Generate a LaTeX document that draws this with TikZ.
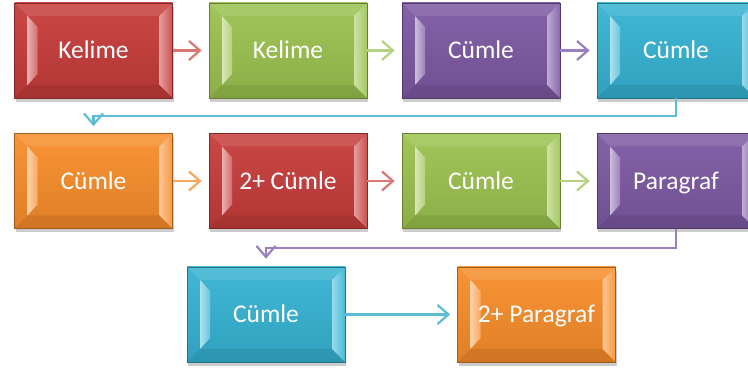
\documentclass[tikz,border=0pt]{standalone}
\usepackage{fontspec}
\setmainfont{Carlito}
\usetikzlibrary{arrows.meta,calc,shadows}
\definecolor{cred}{HTML}{C63C3A}
\definecolor{cgreen}{HTML}{9BC24F}
\definecolor{cpurple}{HTML}{7C58A2}
\definecolor{ccyan}{HTML}{35B3D3}
\definecolor{corange}{HTML}{F88D2A}
\definecolor{ared}{HTML}{DA7674}
\definecolor{agreen}{HTML}{B4D27F}
\definecolor{apurple}{HTML}{9A80BE}
\definecolor{acyan}{HTML}{5DBCD6}
\definecolor{aorange}{HTML}{F9A65A}
\tikzset{
  bx/.style={draw=#1!65!black, line width=0.7pt,
    minimum width=158pt, minimum height=95pt, inner sep=0pt,
    top color=#1!94!white, bottom color=#1!90!black,
    text=white, font=\fontsize{25.5}{30}\selectfont,
    text height=16.5pt, text depth=0pt,
    general shadow={fill=black, opacity=0.2, shadow yshift=-4pt, shadow xshift=1pt},
    path picture={
      \fill[white,opacity=0.10] (path picture bounding box.north west) -- (path picture bounding box.north east)
        -- ([shift={(-13pt,-13pt)}]path picture bounding box.north east)
        -- ([shift={(13pt,-13pt)}]path picture bounding box.north west) -- cycle;
      \fill[black,opacity=0.07] (path picture bounding box.south west) -- (path picture bounding box.south east)
        -- ([shift={(-13pt,13pt)}]path picture bounding box.south east)
        -- ([shift={(13pt,13pt)}]path picture bounding box.south west) -- cycle;
      \shade[left color=#1!40!white, right color=#1!75!white]
        ([shift={(13pt,-13pt)}]path picture bounding box.north west)
        -- ([shift={(23pt,-24pt)}]path picture bounding box.north west)
        -- ([shift={(23pt,24pt)}]path picture bounding box.south west)
        -- ([shift={(13pt,13pt)}]path picture bounding box.south west) -- cycle;
      \shade[left color=#1!50!white, right color=#1!90!white]
        ([shift={(-13pt,-13pt)}]path picture bounding box.north east)
        -- (path picture bounding box.north east)
        -- (path picture bounding box.south east)
        -- ([shift={(-13pt,13pt)}]path picture bounding box.south east) -- cycle;
    }},
  conn/.style={line width=2.2pt, -{Straight Barb[length=11pt,width=19pt]}}
}
\begin{document}
\begin{tikzpicture}[x=1pt,y=-1pt]
\useasboundingbox (0,0) rectangle (748,374);
\clip (0,0) rectangle (748,374);
% row 1
\node[bx=cred]    (b1) at (93.5,50.5) {Kelime};
\node[bx=cgreen]  (b2) at (288,50.5) {Kelime};
\node[bx=cpurple] (b3) at (481,50.5) {Cümle};
\node[bx=ccyan]   (b4) at (676,50.5) {Cümle};
% row 2
\node[bx=corange] (b5) at (93.5,181) {Cümle};
\node[bx=cred]    (b6) at (288,181) {2+ Cümle};
\node[bx=cgreen]  (b7) at (481,181) {Cümle};
\node[bx=cpurple] (b8) at (676,181) {Paragraf};
% row 3
\node[bx=ccyan]   (b9) at (266,314.5) {Cümle};
\node[bx=corange] (b10) at (536.5,314.5) {2+ Paragraf};
% connectors
\draw[conn, ared, shorten >=7pt] (b1) -- (b2);
\draw[conn, agreen, shorten >=7pt] (b2) -- (b3);
\draw[conn, apurple, shorten >=7pt] (b3) -- (b4);
\draw[conn, acyan, shorten >=7pt] (b4.south) -- ++(0,18) -| (b5.north);
\draw[conn, aorange, shorten >=7pt] (b5) -- (b6);
\draw[conn, ared, shorten >=7pt] (b6) -- (b7);
\draw[conn, agreen, shorten >=7pt] (b7) -- (b8);
\draw[conn, apurple, shorten >=8pt] (b8.south) -- ++(0,19) -| (b9.north);
\draw[conn, acyan, shorten >=7pt] (b9) -- (b10);
\end{tikzpicture}
\end{document}
